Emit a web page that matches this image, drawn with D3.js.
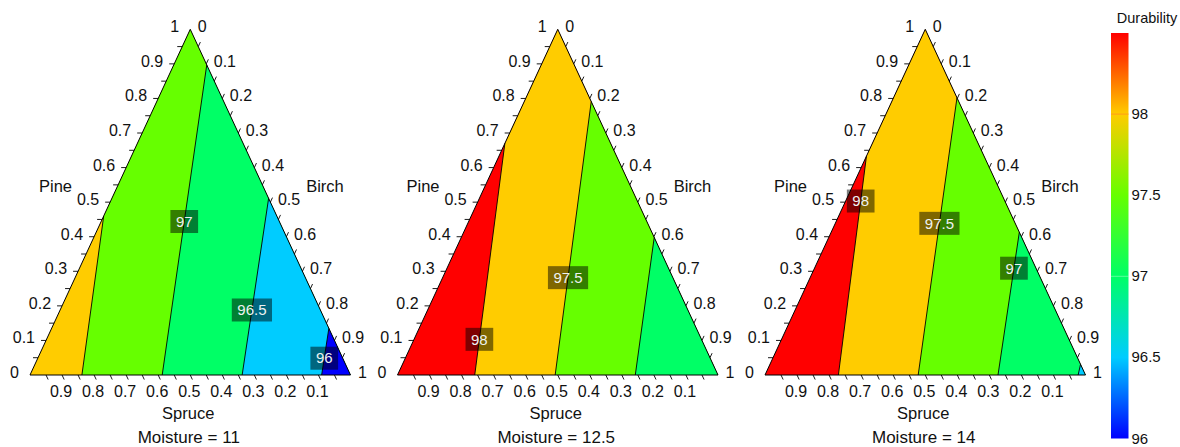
<!DOCTYPE html>
<html>
<head>
<meta charset="utf-8">
<script src="https://cdn.jsdelivr.net/npm/d3@7"></script>
<style>
  html, body { margin: 0; padding: 0; background: #fff; }
  svg { display: block; font-family: "Liberation Sans", Arial, sans-serif; }
</style>
</head>
<body>
<svg id="chart" width="1180" height="447"></svg>
<script>
// Durability of Spruce / Pine / Birch mixes, one ternary contour panel per moisture level

const moistureLevels = [11, 12.5, 14];
const contourLevels = [96, 96.5, 97, 97.5, 98];
// band fills: below 96, 96–96.5, 96.5–97, 97–97.5, 97.5–98, above 98
const bandColors = ["#0000ff", "#00ccff", "#00ff66", "#66ff00", "#ffcc00", "#ff0000"];
const colorbarTicks = [96, 96.5, 97, 97.5, 98];
const axisLabelValues = [0.1, 0.2, 0.3, 0.4, 0.5, 0.6, 0.7, 0.8, 0.9];
const tickValues = [0.05, 0.1, 0.15, 0.2, 0.25, 0.3, 0.35, 0.4, 0.45, 0.5,
                    0.55, 0.6, 0.65, 0.7, 0.75, 0.8, 0.85, 0.9, 0.95];

// iso-durability lines; endpoints are [pine, birch, spruce] fractions,
// label = position of the value tag along the line (0 = upper end, 1 = lower end)
const contours11 = [
  { level: 97.5, from: [0.46, 0, 0.54],    to: [0, 0.162, 0.838], label: null },
  { level: 97,   from: [0.897, 0.103, 0],  to: [0, 0.4125, 0.5875], label: 0.505 },
  { level: 96.5, from: [0.511, 0.489, 0],  to: [0, 0.662, 0.338], label: 0.632 },
  { level: 96,   from: [0.135, 0.865, 0],  to: [0, 0.91, 0.09],   label: 0.64 }
];
const contours12_5 = [
  { level: 98,   from: [0.67, 0, 0.33],    to: [0, 0.241, 0.759], label: 0.846 },
  { level: 97.5, from: [0.791, 0.209, 0],  to: [0, 0.492, 0.508], label: 0.644 },
  { level: 97,   from: [0.398, 0.602, 0],  to: [0, 0.742, 0.258], label: null }
];
const contours14 = [
  { level: 98,   from: [0.633, 0, 0.367],  to: [0, 0.229, 0.771], label: 0.205 },
  { level: 97.5, from: [0.802, 0.198, 0],  to: [0, 0.478, 0.522], label: 0.453 },
  { level: 97,   from: [0.413, 0.587, 0],  to: [0, 0.727, 0.273], label: 0.252 },
  { level: 96.5, from: [0.031, 0.969, 0],  to: [0, 0.977, 0.023], label: null }
];
const panelContours = [contours11, contours12_5, contours14];

const svg = d3.select("#chart");

const panelLeft = [30, 397.5, 765];
const panelWidth = 320.5;
const baseY = 375, apexY = 29.3;
const tickLen = 5;

const fmt = d3.format(".1f");
const lineGen = d3.line();

// keep the part of a polygon lying on the same side of line a-b as keepPt
function clipHalf(poly, a, b, keepPt) {
  const side = p => (b[0] - a[0]) * (p[1] - a[1]) - (b[1] - a[1]) * (p[0] - a[0]);
  const sKeep = Math.sign(side(keepPt));
  const out = [];
  for (let i = 0; i < poly.length; i++) {
    const cur = poly[i], prev = poly[(i + poly.length - 1) % poly.length];
    const sc = side(cur) * sKeep, sp = side(prev) * sKeep;
    const cross = () => {
      const t = sp / (sp - sc);
      return [prev[0] + t * (cur[0] - prev[0]), prev[1] + t * (cur[1] - prev[1])];
    };
    if (sc >= 0) {
      if (sp < 0) out.push(cross());
      out.push(cur);
    } else if (sp >= 0) {
      out.push(cross());
    }
  }
  return out;
}

function bandColorAbove(level) { return bandColors[contourLevels.indexOf(level) + 1]; }
function bandColorBelow(level) { return bandColors[contourLevels.indexOf(level)]; }

moistureLevels.forEach((m, i) => {
  const left = panelLeft[i];
  const x = d3.scaleLinear().domain([0, 1]).range([left, left + panelWidth]);
  const y = d3.scaleLinear().domain([0, 1]).range([baseY, apexY]);
  // [pine, birch, spruce] -> screen
  const proj = c => [x(c[1] + c[0] / 2), y(c[0])];

  const L = proj([0, 0, 1]), R = proj([0, 1, 0]), A = proj([1, 0, 0]);
  const tri = [L, A, R];
  const g = svg.append("g");

  const contours = panelContours[i].slice().sort((a, b) => b.level - a.level);

  // filled bands, painted from the high (Pine/Spruce) side toward Birch
  g.append("path")
    .attr("d", lineGen(tri) + "Z")
    .attr("fill", bandColorAbove(contours[0].level));
  contours.forEach(c => {
    const poly = clipHalf(tri, proj(c.from), proj(c.to), R);
    if (poly.length > 2) {
      g.append("path").attr("d", lineGen(poly) + "Z").attr("fill", bandColorBelow(c.level));
    }
  });

  // contour lines
  contours.forEach(c => {
    g.append("path")
      .attr("d", lineGen([proj(c.from), proj(c.to)]))
      .attr("fill", "none").attr("stroke", "#000").attr("stroke-width", 0.9);
  });

  // triangle frame
  g.append("path").attr("d", lineGen(tri) + "Z")
    .attr("fill", "none").attr("stroke", "#000").attr("stroke-width", 1);

  // tick directions follow each axis's grid lines
  const dAR = [(R[0] - A[0]), (R[1] - A[1])];
  const nAR = Math.hypot(dAR[0], dAR[1]);
  const spruceDir = [dAR[0] / nAR, dAR[1] / nAR];
  const birchDir = [spruceDir[0], -spruceDir[1]];
  const pineDir = [-1, 0];

  const ticks = [];
  tickValues.forEach(v => {
    ticks.push({ p: proj([v, 0, 1 - v]), d: pineDir });      // Pine, left edge
    ticks.push({ p: proj([1 - v, v, 0]), d: birchDir });     // Birch, right edge
    ticks.push({ p: proj([0, 1 - v, v]), d: spruceDir });    // Spruce, bottom edge
  });
  g.selectAll(null).data(ticks).join("line")
    .attr("x1", t => t.p[0]).attr("y1", t => t.p[1])
    .attr("x2", t => t.p[0] + t.d[0] * tickLen).attr("y2", t => t.p[1] + t.d[1] * tickLen)
    .attr("stroke", "#000").attr("stroke-width", 0.9);

  const tickText = g.append("g").attr("font-size", 16).attr("fill", "#111");
  // Pine labels (0..1 up the left edge)
  [0].concat(axisLabelValues, [1]).forEach(v => {
    const p = proj([v, 0, 1 - v]);
    tickText.append("text").attr("x", p[0] - 11).attr("y", p[1] + 3)
      .attr("text-anchor", "end").text(v === 0 || v === 1 ? String(v) : fmt(v));
  });
  // Birch labels (0..1 down the right edge)
  [0].concat(axisLabelValues, [1]).forEach(v => {
    const p = proj([1 - v, v, 0]);
    tickText.append("text").attr("x", p[0] + 7.5).attr("y", p[1] + 3)
      .attr("text-anchor", "start").text(v === 0 || v === 1 ? String(v) : fmt(v));
  });
  // Spruce labels (bottom edge)
  axisLabelValues.forEach(v => {
    const p = proj([0, 1 - v, v]);
    tickText.append("text").attr("x", p[0] - 1).attr("y", p[1] + 21.5)
      .attr("text-anchor", "middle").text(fmt(v));
  });

  // axis titles
  const titles = g.append("g").attr("font-size", 16.5).attr("fill", "#111");
  titles.append("text").attr("x", left + 25.5).attr("y", 191.8).attr("text-anchor", "middle").text("Pine");
  titles.append("text").attr("x", left + 295).attr("y", 191.8).attr("text-anchor", "middle").text("Birch");
  titles.append("text").attr("x", A[0] - 2).attr("y", 418.5).attr("text-anchor", "middle").text("Spruce");
  g.append("text").attr("x", A[0] - 1.5).attr("y", 443).attr("text-anchor", "middle")
    .attr("font-size", 17).attr("fill", "#111").text("Moisture = " + m);

  // value tags on the contour lines
  contours.filter(c => c.label !== null).forEach(c => {
    const p0 = proj(c.from), p1 = proj(c.to);
    const cx = p0[0] + (p1[0] - p0[0]) * c.label;
    const cy = p0[1] + (p1[1] - p0[1]) * c.label;
    const tag = g.append("g");
    const rect = tag.append("rect").attr("fill", "#000").attr("fill-opacity", 0.5);
    const txt = tag.append("text").attr("x", cx).attr("y", cy + 5.3)
      .attr("text-anchor", "middle").attr("font-size", 15).attr("fill", "#eef2f2")
      .text(c.level);
    const w = txt.node().getComputedTextLength() + 11;
    rect.attr("x", cx - w / 2).attr("y", cy - 11.5).attr("width", w).attr("height", 23);
  });
});

// colour scale legend
const cbScale = d3.scaleLinear().domain([96, 98.5]).range([438.5, 33]);
const cbX = 1111, cbW = 17.5;
const defs = svg.append("defs");
const grad = defs.append("linearGradient").attr("id", "durGrad")
  .attr("x1", 0).attr("y1", 1).attr("x2", 0).attr("y2", 0);
const stopValues = contourLevels.concat([98.5]);
stopValues.forEach((v, k) => {
  grad.append("stop")
    .attr("offset", (v - 96) / 2.5)
    .attr("stop-color", bandColors[k]);
});
svg.append("rect")
  .attr("x", cbX).attr("y", cbScale(98.5))
  .attr("width", cbW).attr("height", cbScale(96) - cbScale(98.5))
  .attr("fill", "url(#durGrad)");
// level marks inside the bar
svg.append("line").attr("x1", cbX).attr("x2", cbX + cbW)
  .attr("y1", cbScale(98)).attr("y2", cbScale(98))
  .attr("stroke", "#ff9a1a").attr("stroke-width", 1);
svg.append("line").attr("x1", cbX).attr("x2", cbX + cbW)
  .attr("y1", cbScale(97)).attr("y2", cbScale(97))
  .attr("stroke", "#ffffff").attr("stroke-opacity", 0.35).attr("stroke-width", 1);

const cbAxis = svg.append("g")
  .attr("transform", `translate(${cbX + cbW},0)`)
  .call(d3.axisRight(cbScale).tickValues(colorbarTicks).tickSize(0).tickPadding(3).tickFormat(d3.format("")));
cbAxis.select(".domain").remove();
cbAxis.selectAll("text")
  .attr("font-family", "'Liberation Sans', Arial, sans-serif")
  .attr("font-size", 15).attr("fill", "#111").attr("dy", "0.3em");

svg.append("text").attr("x", 1147).attr("y", 22.5).attr("text-anchor", "middle")
  .attr("font-size", 14.5).attr("fill", "#111").text("Durability");
</script>
</body>
</html>
